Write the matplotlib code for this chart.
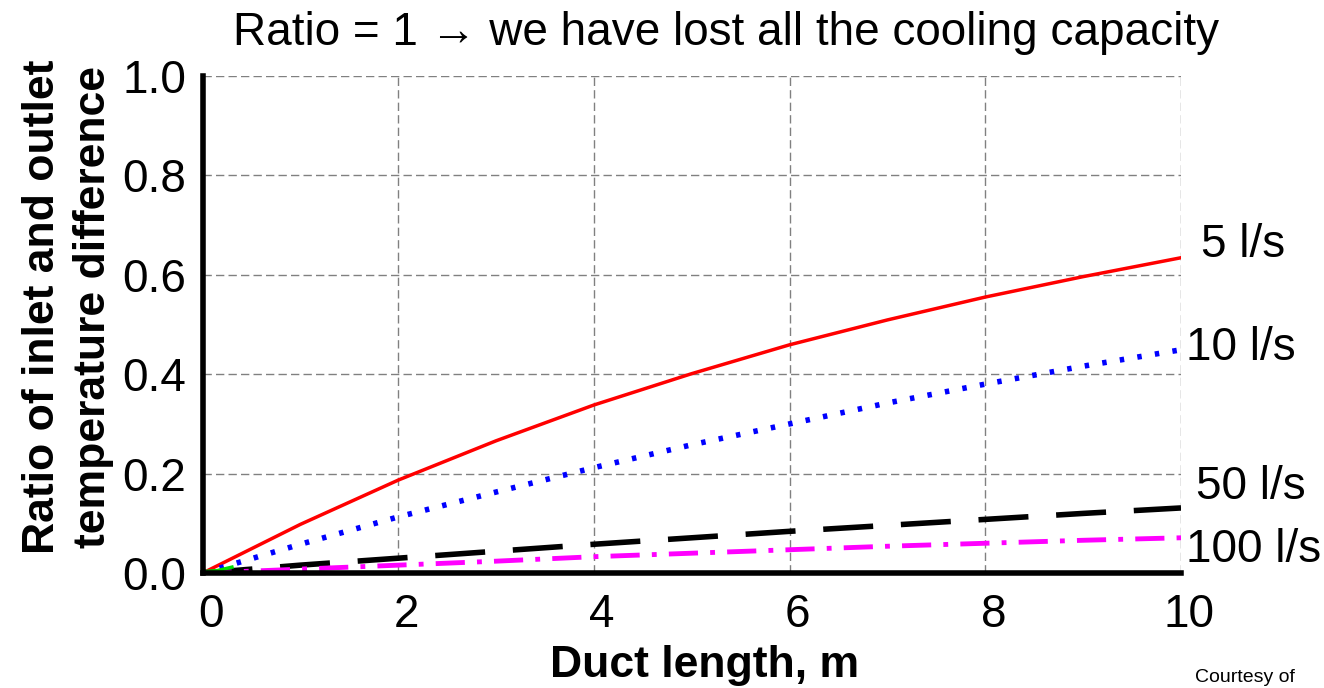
import numpy as np
import matplotlib.pyplot as plt
import matplotlib.transforms as mtransforms

plt.rcParams['font.family'] = ['Liberation Sans', 'DejaVu Sans']

# datos
length = [0, 1, 2, 3, 4, 5, 6, 7, 8, 9, 10]
r_5 = [0, 0.098, 0.187, 0.266, 0.338, 0.401, 0.459, 0.509, 0.555, 0.596, 0.634]
r_10 = [0, 0.058, 0.113, 0.163, 0.212, 0.258, 0.300, 0.342, 0.380, 0.416, 0.449]
r_50 = [0, 0.016, 0.030, 0.044, 0.058, 0.071, 0.084, 0.096, 0.108, 0.120, 0.131]
r_100 = [0, 0.008, 0.016, 0.024, 0.033, 0.040, 0.047, 0.054, 0.060, 0.066, 0.071]
green_x = [0, 0.15, 0.3]
green_y = [0.003, 0.005, 0.012]

labels = ["5 l/s", "10 l/s", "50 l/s", "100 l/s"]
label_y = [0.66, 0.453, 0.173, 0.046]

fig = plt.figure(figsize=(13.24, 6.88), dpi=100)
ax = fig.add_axes([0.153, 0.167, 0.739, 0.723])

ax.plot(length, r_5, color="red", lw=2.5)
ax.plot(length, r_10, color="blue", lw=4, linestyle=(0, (0.8, 2.4)))
ax.plot(length, r_50, color="black", lw=4, linestyle=(0, (9, 5)))
ax.plot(length, r_100, color="magenta", lw=3.5, linestyle=(0, (6, 2.5, 1, 2.5)))
ax.plot(green_x, green_y, color="#00dd00", lw=2.5)

ax.set_xlim(0, 10)
ax.set_ylim(0, 1.0)
ax.set_xticks([0, 2, 4, 6, 8, 10])
ax.set_yticks([0, 0.2, 0.4, 0.6, 0.8, 1.0])
ax.set_yticklabels(["0.0", "0.2", "0.4", "0.6", "0.8", "1.0"])
ax.tick_params(labelsize=33, length=0)
ax.tick_params(axis="y", pad=12)
ax.tick_params(axis="x", pad=14)

# las etiquetas del eje x estan un poco desplazadas a la derecha
shift = mtransforms.ScaledTranslation(8 / 100, 0, fig.dpi_scale_trans)
for lab in ax.get_xticklabels():
    lab.set_transform(lab.get_transform() + shift)

ax.grid(True, color="#808080", linestyle=(0, (6, 3)), lw=1)
ax.spines["top"].set_visible(False)
ax.spines["right"].set_visible(False)
ax.spines["left"].set_linewidth(4)
ax.spines["bottom"].set_linewidth(4)

# etiquetas de las curvas
lx = [10.2, 10.05, 10.15, 10.05]
for t, xx, yy in zip(labels, lx, label_y):
    ax.text(xx, yy, t, fontsize=33, va="center", ha="left", clip_on=False)

fig.text(726 / 1324, 1 - 33 / 688, "Ratio = 1 \u2192 we have lost all the cooling capacity",
         fontsize=33, ha="center", va="center")
fig.text(705 / 1324, 1 - 666 / 688, "Duct length, m", fontsize=32, fontweight="bold",
         ha="center", va="center")
fig.text(68 / 1324, 1 - 307 / 688, "Ratio of inlet and outlet\ntemperature difference",
         fontsize=32, fontweight="bold", rotation=90, ha="center", va="center",
         multialignment="center", linespacing=1.3)
fig.text(1195 / 1324, 1 - 678 / 688, "Courtesy of", fontsize=14, ha="left", va="center")

fig.savefig("out.png", dpi=100)
